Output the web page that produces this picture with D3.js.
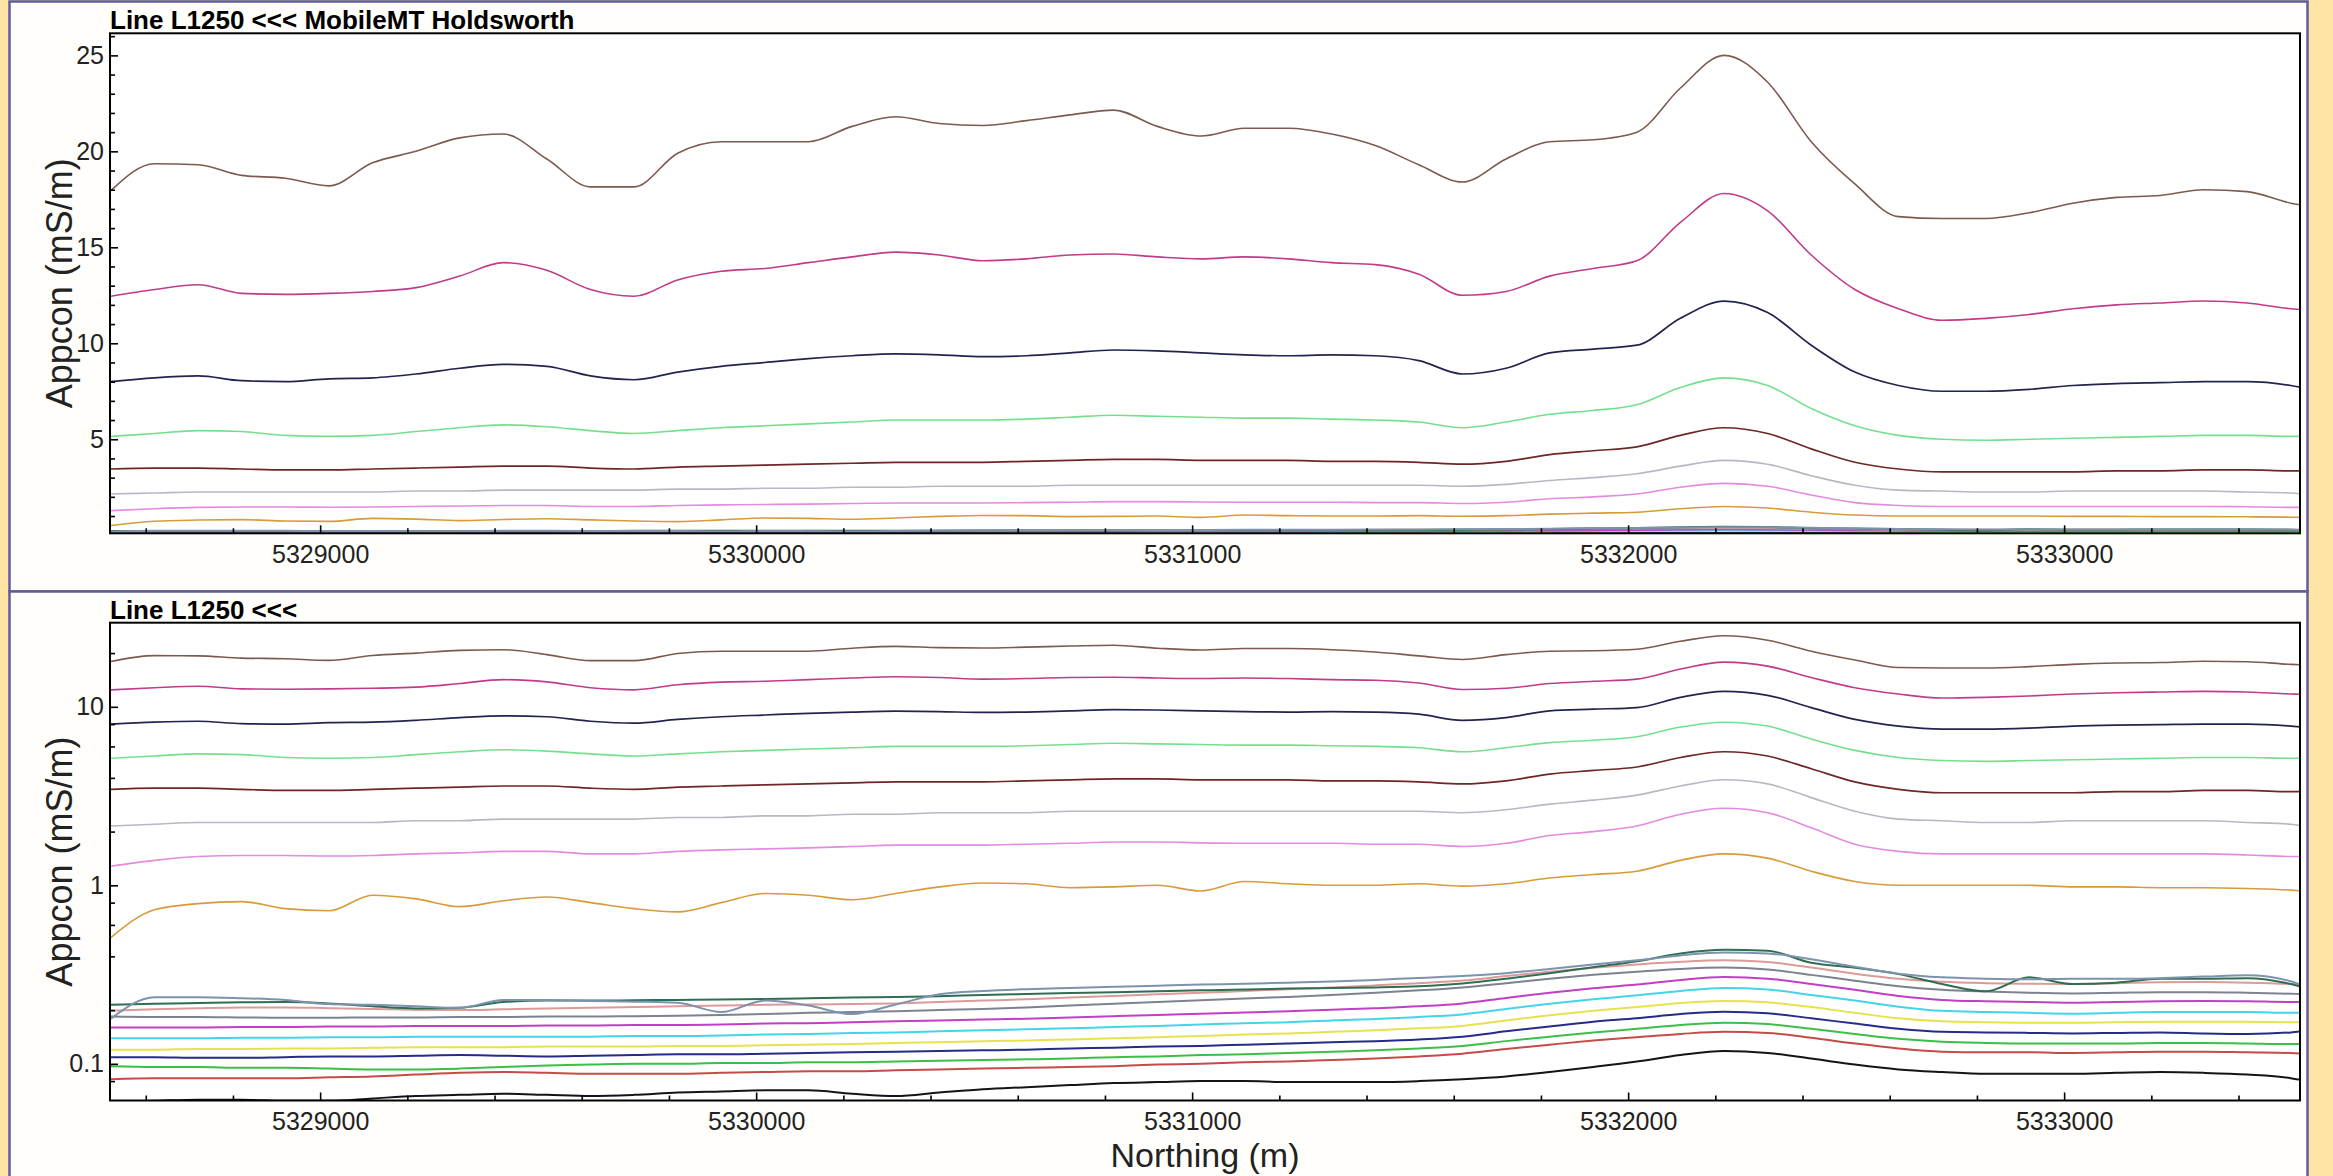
<!DOCTYPE html>
<html>
<head>
<meta charset="utf-8">
<script src="https://cdn.jsdelivr.net/npm/d3@7/dist/d3.min.js"></script>
<style>
  html, body { margin: 0; padding: 0; background: #FFE4A6; }
  svg { display: block; }
  text { font-family: "Liberation Sans", Arial, sans-serif; }
</style>
</head>
<body>
<svg id="chart" width="2333" height="1176"></svg>
<script>
// ---- Survey stations along line L1250 (Northing, m) ----
const stations = [5328520,5328620,5328720,5328820,5328920,5329020,5329120,5329220,5329320,5329420,
  5329520,5329620,5329720,5329820,5329920,5330020,5330120,5330220,5330320,5330420,
  5330520,5330620,5330720,5330820,5330920,5331020,5331120,5331220,5331320,5331420,
  5331520,5331620,5331720,5331820,5331920,5332020,5332120,5332220,5332320,5332420,
  5332520,5332620,5332720,5332820,5332920,5333020,5333120,5333220,5333320,5333420,
  5333520,5333545];

// ---- Apparent conductivity (mS/m) per frequency window ----
const appcon01 = [17.95,19.35,19.3,18.75,18.6,18.2,19.4,20.0,20.7,20.9,19.6,18.15,18.15,19.9,20.5,20.5,20.5,21.3,21.8,21.45,21.35,21.6,21.9,22.15,21.3,20.8,21.2,21.2,20.9,20.3,19.3,18.4,19.6,20.5,20.6,21.0,23.3,25.0,23.6,20.5,18.3,16.6,16.5,16.5,16.8,17.3,17.6,17.7,18.0,17.9,17.3,17.2];
const appcon02 = [12.45,12.8,13.05,12.6,12.55,12.6,12.7,12.9,13.5,14.2,13.8,12.8,12.45,13.3,13.75,13.9,14.2,14.5,14.75,14.6,14.3,14.4,14.6,14.65,14.5,14.4,14.5,14.4,14.2,14.1,13.6,12.5,12.7,13.5,13.9,14.3,16.3,17.8,16.9,14.6,12.8,11.8,11.2,11.3,11.5,11.8,12.0,12.1,12.2,12.1,11.8,11.75];
const appcon03 = [8.0,8.2,8.3,8.05,8.0,8.15,8.2,8.4,8.7,8.9,8.8,8.3,8.1,8.5,8.8,9.0,9.2,9.35,9.45,9.4,9.3,9.35,9.5,9.65,9.6,9.5,9.4,9.35,9.4,9.35,9.1,8.4,8.7,9.5,9.7,9.9,11.3,12.2,11.6,9.9,8.5,7.8,7.5,7.5,7.6,7.8,7.9,7.95,8.0,8.0,7.8,7.7];
const appcon04 = [5.15,5.3,5.45,5.4,5.2,5.15,5.2,5.4,5.6,5.75,5.65,5.45,5.3,5.45,5.6,5.7,5.8,5.9,6.0,6.0,6.0,6.05,6.15,6.25,6.2,6.15,6.1,6.1,6.05,6.0,5.9,5.6,5.9,6.3,6.5,6.8,7.7,8.2,7.8,6.6,5.7,5.2,5.0,4.95,5.0,5.05,5.1,5.15,5.2,5.2,5.15,5.15];
const appcon05 = [3.45,3.5,3.5,3.45,3.4,3.4,3.45,3.5,3.55,3.6,3.6,3.5,3.45,3.55,3.6,3.65,3.7,3.75,3.8,3.8,3.8,3.85,3.9,3.95,3.95,3.9,3.9,3.9,3.85,3.85,3.8,3.7,3.85,4.2,4.4,4.6,5.2,5.6,5.3,4.5,3.8,3.45,3.3,3.3,3.3,3.3,3.35,3.35,3.4,3.4,3.35,3.35];
const appcon06 = [2.15,2.2,2.25,2.25,2.25,2.25,2.25,2.3,2.3,2.35,2.35,2.35,2.35,2.4,2.4,2.45,2.45,2.5,2.5,2.55,2.55,2.55,2.6,2.6,2.6,2.6,2.6,2.6,2.6,2.6,2.6,2.55,2.65,2.85,3.0,3.2,3.6,3.9,3.7,3.1,2.6,2.35,2.3,2.25,2.25,2.3,2.3,2.3,2.3,2.25,2.2,2.15];
const appcon07 = [1.28,1.38,1.45,1.47,1.47,1.46,1.47,1.5,1.52,1.55,1.55,1.5,1.5,1.55,1.58,1.6,1.62,1.65,1.68,1.68,1.68,1.7,1.72,1.75,1.75,1.73,1.72,1.72,1.72,1.7,1.7,1.65,1.72,1.9,2.0,2.15,2.5,2.7,2.55,2.1,1.7,1.55,1.5,1.5,1.5,1.5,1.5,1.5,1.5,1.48,1.45,1.45];
const appcon08 = [0.51,0.73,0.79,0.81,0.74,0.72,0.88,0.84,0.76,0.82,0.86,0.8,0.74,0.71,0.8,0.9,0.88,0.83,0.9,0.98,1.03,1.02,0.97,0.98,1.0,0.93,1.05,1.02,1.0,1.0,1.02,0.99,1.02,1.1,1.15,1.2,1.38,1.5,1.42,1.2,1.05,1.0,1.0,1.0,1.0,0.98,0.98,0.97,0.97,0.96,0.94,0.93];
const appcon09 = [0.179,0.236,0.236,0.233,0.228,0.216,0.214,0.210,0.206,0.228,0.228,0.225,0.223,0.220,0.195,0.226,0.212,0.190,0.215,0.245,0.256,0.262,0.266,0.270,0.274,0.278,0.281,0.285,0.289,0.295,0.303,0.310,0.322,0.340,0.360,0.380,0.405,0.420,0.415,0.385,0.350,0.320,0.305,0.300,0.298,0.300,0.300,0.302,0.308,0.313,0.290,0.275];
const appcon10 = [0.214,0.217,0.219,0.221,0.222,0.218,0.210,0.204,0.206,0.222,0.226,0.226,0.227,0.228,0.229,0.231,0.233,0.235,0.237,0.239,0.243,0.246,0.249,0.252,0.255,0.258,0.261,0.264,0.266,0.268,0.272,0.282,0.300,0.322,0.348,0.375,0.415,0.435,0.430,0.368,0.345,0.318,0.280,0.255,0.305,0.280,0.285,0.300,0.300,0.302,0.280,0.270];
const appcon11 = [0.198,0.202,0.205,0.207,0.207,0.205,0.203,0.201,0.200,0.202,0.204,0.206,0.208,0.210,0.212,0.214,0.215,0.216,0.218,0.222,0.226,0.230,0.235,0.240,0.245,0.250,0.256,0.262,0.268,0.275,0.283,0.293,0.310,0.328,0.345,0.360,0.373,0.380,0.372,0.346,0.320,0.300,0.288,0.283,0.281,0.280,0.283,0.286,0.287,0.285,0.280,0.278];
const appcon12 = [0.184,0.183,0.183,0.182,0.181,0.181,0.182,0.182,0.183,0.183,0.184,0.184,0.185,0.186,0.188,0.190,0.193,0.195,0.197,0.200,0.203,0.207,0.212,0.217,0.222,0.227,0.232,0.237,0.243,0.250,0.258,0.268,0.283,0.300,0.315,0.328,0.340,0.346,0.338,0.315,0.292,0.272,0.260,0.254,0.250,0.248,0.250,0.252,0.252,0.250,0.247,0.246];
const appcon13 = [0.160,0.160,0.160,0.161,0.161,0.162,0.162,0.163,0.163,0.163,0.164,0.164,0.165,0.165,0.166,0.168,0.169,0.171,0.173,0.175,0.177,0.179,0.182,0.185,0.188,0.191,0.194,0.197,0.201,0.205,0.210,0.218,0.234,0.250,0.265,0.278,0.295,0.306,0.300,0.280,0.260,0.240,0.228,0.224,0.222,0.220,0.222,0.224,0.225,0.224,0.222,0.222];
const appcon14 = [0.139,0.139,0.139,0.140,0.140,0.141,0.141,0.142,0.142,0.142,0.142,0.142,0.143,0.143,0.144,0.146,0.147,0.149,0.150,0.152,0.154,0.156,0.158,0.161,0.163,0.166,0.169,0.171,0.175,0.178,0.183,0.189,0.203,0.217,0.230,0.242,0.256,0.266,0.261,0.243,0.226,0.209,0.198,0.195,0.193,0.191,0.193,0.195,0.195,0.195,0.193,0.193];
const appcon15 = [0.120,0.120,0.121,0.121,0.122,0.122,0.123,0.124,0.124,0.124,0.125,0.125,0.125,0.126,0.126,0.127,0.128,0.129,0.131,0.132,0.134,0.135,0.137,0.139,0.141,0.143,0.146,0.148,0.151,0.154,0.158,0.163,0.175,0.187,0.198,0.208,0.219,0.225,0.221,0.208,0.193,0.180,0.173,0.171,0.170,0.170,0.171,0.172,0.172,0.172,0.171,0.171];
const appcon16 = [0.109,0.109,0.108,0.108,0.109,0.110,0.110,0.111,0.112,0.111,0.110,0.111,0.112,0.113,0.113,0.114,0.115,0.116,0.117,0.118,0.119,0.120,0.122,0.123,0.125,0.126,0.128,0.130,0.132,0.134,0.137,0.142,0.152,0.162,0.172,0.180,0.190,0.196,0.192,0.180,0.168,0.157,0.151,0.150,0.149,0.148,0.149,0.150,0.148,0.147,0.150,0.152];
const appcon17 = [0.097,0.096,0.096,0.095,0.095,0.094,0.093,0.093,0.094,0.096,0.098,0.099,0.100,0.100,0.101,0.101,0.102,0.102,0.103,0.104,0.105,0.106,0.107,0.109,0.110,0.112,0.113,0.115,0.117,0.119,0.122,0.126,0.134,0.142,0.150,0.157,0.165,0.170,0.167,0.157,0.147,0.138,0.133,0.131,0.130,0.130,0.130,0.131,0.131,0.130,0.129,0.129];
const appcon18 = [0.082,0.083,0.083,0.083,0.083,0.084,0.085,0.087,0.089,0.090,0.089,0.088,0.088,0.088,0.089,0.090,0.091,0.091,0.092,0.093,0.094,0.095,0.096,0.097,0.099,0.100,0.102,0.103,0.105,0.107,0.110,0.114,0.121,0.128,0.135,0.141,0.147,0.151,0.149,0.140,0.130,0.122,0.117,0.116,0.116,0.115,0.116,0.117,0.117,0.116,0.115,0.114];
const appcon19 = [0.061,0.062,0.063,0.063,0.062,0.062,0.064,0.066,0.067,0.068,0.067,0.066,0.067,0.069,0.070,0.071,0.071,0.068,0.066,0.069,0.072,0.074,0.076,0.078,0.079,0.080,0.080,0.079,0.079,0.079,0.080,0.082,0.085,0.090,0.096,0.103,0.112,0.118,0.115,0.107,0.099,0.093,0.090,0.088,0.088,0.088,0.089,0.090,0.089,0.087,0.083,0.081];

// ---- Axis tick values ----
const northingTicks = [5329000, 5330000, 5331000, 5332000, 5333000];
const linearTicks = [5, 10, 15, 20, 25];
const logTicks = [0.1, 1, 10];
const logMinorTicks = [0.08, 0.2, 0.4, 0.6, 0.8, 2, 4, 6, 8, 20];

// ---- Line styles, one per window ----
const seriesData = [appcon19, appcon18, appcon17, appcon16, appcon15, appcon14, appcon13, appcon12,
  appcon11, appcon10, appcon09, appcon08, appcon07, appcon06, appcon05, appcon04, appcon03, appcon02, appcon01];
const seriesStyle = [
  { color: "#141414", width: 2.0 },
  { color: "#c64b48", width: 2.0 },
  { color: "#3cbf48", width: 2.0 },
  { color: "#262a88", width: 2.0 },
  { color: "#e6e24e", width: 2.0 },
  { color: "#44d4ea", width: 2.0 },
  { color: "#c23ec6", width: 2.0 },
  { color: "#7c8290", width: 2.0 },
  { color: "#dc9a98", width: 2.0 },
  { color: "#2f6e52", width: 2.0 },
  { color: "#7d93ad", width: 2.0 },
  { color: "#d99a3a", width: 1.6 },
  { color: "#e48ae0", width: 1.6 },
  { color: "#b8b8c4", width: 1.6 },
  { color: "#6e2626", width: 1.7 },
  { color: "#74e08e", width: 1.6 },
  { color: "#23234f", width: 1.7 },
  { color: "#c23b8a", width: 1.6 },
  { color: "#7d5a50", width: 1.6 }
];

const W = 2333, H = 1176;
const svg = d3.select("#chart");

svg.append("rect").attr("width", W).attr("height", H).attr("fill", "#FFE4A6");

// Two framed panels
const panelFrames = [
  { x: 9.5, y: 1.5, w: 2298, h: 590 },
  { x: 9.5, y: 591.5, w: 2298, h: 600 }
];
panelFrames.forEach(p => {
  svg.append("rect")
    .attr("x", p.x).attr("y", p.y).attr("width", p.w).attr("height", p.h)
    .attr("fill", "#FFFEFA").attr("stroke", "#5E5E9C").attr("stroke-width", 2.5);
});

const x = d3.scaleLinear().domain([5328518, 5333541]).range([110, 2300]);
const minorNorthing = d3.range(5328600, 5333541, 200).filter(v => v % 1000 !== 0);

function drawPanel(opt) {
  const { y, top, bottom, title, id, yMajor, yMinor, yFormat, showXTitle } = opt;
  const g = svg.append("g");

  g.append("clipPath").attr("id", id)
    .append("rect").attr("x", 110).attr("y", top)
    .attr("width", 2190).attr("height", bottom - top);

  g.append("rect").attr("x", 110).attr("y", top)
    .attr("width", 2190).attr("height", bottom - top).attr("fill", "#ffffff");

  // Curves
  const line = d3.line()
    .defined(d => d[1] > 0)
    .x(d => x(d[0])).y(d => y(d[1]))
    .curve(d3.curveMonotoneX);

  const curves = g.append("g").attr("clip-path", `url(#${id})`);
  seriesData.forEach((vals, i) => {
    const pts = stations.map((s, k) => [s, vals[k]]);
    curves.append("path")
      .attr("d", line(pts))
      .attr("fill", "none")
      .attr("stroke", seriesStyle[i].color)
      .attr("stroke-width", seriesStyle[i].width)
      .attr("stroke-linejoin", "round");
  });

  // Bottom axis: major and minor ticks pointing inward
  const xAxis = d3.axisBottom(x).tickValues(northingTicks).tickFormat(d3.format("d"))
    .tickSizeInner(-8).tickSizeOuter(0).tickPadding(12);
  const xa = g.append("g").attr("transform", `translate(0,${bottom})`).call(xAxis);
  const xAxisMinor = d3.axisBottom(x).tickValues(minorNorthing).tickFormat("")
    .tickSizeInner(-5).tickSizeOuter(0);
  const xm = g.append("g").attr("transform", `translate(0,${bottom})`).call(xAxisMinor);

  // Left axis
  const yAxis = d3.axisLeft(y).tickValues(yMajor).tickFormat(yFormat)
    .tickSizeInner(-8).tickSizeOuter(0).tickPadding(6);
  const ya = g.append("g").attr("transform", "translate(110,0)").call(yAxis);
  const yAxisMinor = d3.axisLeft(y).tickValues(yMinor).tickFormat("")
    .tickSizeInner(-5).tickSizeOuter(0);
  const ym = g.append("g").attr("transform", "translate(110,0)").call(yAxisMinor);

  [xa, xm, ya, ym].forEach(a => {
    a.select(".domain").remove();
    a.selectAll(".tick line").attr("stroke", "#000").attr("stroke-width", 1.6);
    a.selectAll(".tick text").attr("fill", "#222").style("font-size", "25px")
      .style("font-family", "'Liberation Sans', Arial, sans-serif");
  });

  // Plot frame
  g.append("rect").attr("x", 110).attr("y", top)
    .attr("width", 2190).attr("height", bottom - top)
    .attr("fill", "none").attr("stroke", "#000").attr("stroke-width", 2);

  // Title
  g.append("text").attr("x", 110).attr("y", top - 4)
    .style("font-size", "26px").style("font-weight", "bold").attr("fill", "#000")
    .text(title);

  // Y title
  g.append("text")
    .attr("transform", `translate(72,${(top + bottom) / 2}) rotate(-90)`)
    .attr("text-anchor", "middle")
    .style("font-size", "36px").attr("fill", "#222")
    .text("Appcon (mS/m)");

  if (showXTitle) {
    g.append("text").attr("x", 1205).attr("y", bottom + 66)
      .attr("text-anchor", "middle")
      .style("font-size", "34px").attr("fill", "#222")
      .text("Northing (m)");
  }
}

// Upper panel: linear conductivity
const yLin = d3.scaleLinear().domain([0.1, 26.15]).range([533.3, 33.3]);
drawPanel({
  y: yLin, top: 33.3, bottom: 533.3, id: "clipLin",
  title: "Line L1250 <<< MobileMT Holdsworth",
  yMajor: linearTicks, yMinor: d3.range(1, 27).filter(v => v % 5 !== 0),
  yFormat: d3.format("d"), showXTitle: false
});

// Lower panel: logarithmic conductivity
const yLog = d3.scaleLog().domain([0.0623, 29.6]).range([1100.5, 622.7]);
drawPanel({
  y: yLog, top: 622.7, bottom: 1100.5, id: "clipLog",
  title: "Line L1250 <<<",
  yMajor: logTicks, yMinor: logMinorTicks,
  yFormat: d => String(d), showXTitle: true
});
</script>
</body>
</html>
